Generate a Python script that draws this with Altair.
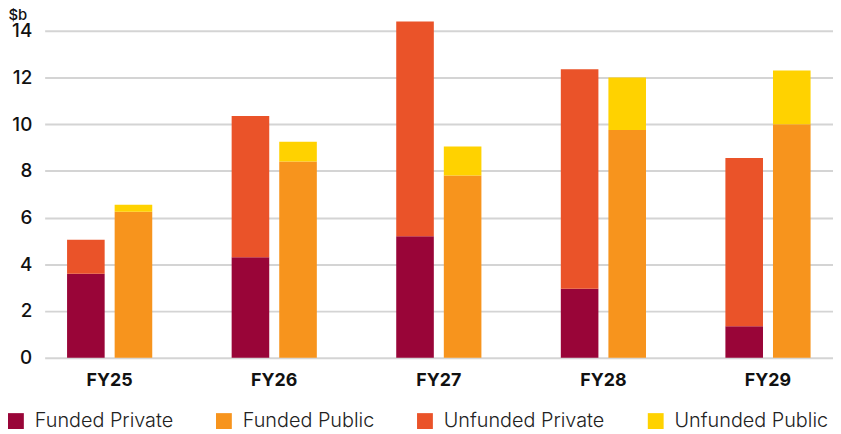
import altair as alt
import pandas as pd

years = ["FY25", "FY26", "FY27", "FY28", "FY29"]
funded_private = [3.6, 4.3, 5.2, 2.95, 1.35]
unfunded_private = [1.45, 6.05, 9.2, 9.4, 7.2]
funded_public = [6.25, 8.4, 7.8, 9.75, 10.0]
unfunded_public = [0.3, 0.85, 1.25, 2.25, 2.3]

series_names = ["Funded Private", "Funded Public", "Unfunded Private", "Unfunded Public"]
series_colors = ["#990538", "#F7941D", "#EA5329", "#FFD200"]

rows = []
for i, y in enumerate(years):
    rows.append({"year": y, "kind": "Private", "series": "Funded Private", "order": 0, "value": funded_private[i]})
    rows.append({"year": y, "kind": "Private", "series": "Unfunded Private", "order": 1, "value": unfunded_private[i]})
    rows.append({"year": y, "kind": "Public", "series": "Funded Public", "order": 0, "value": funded_public[i]})
    rows.append({"year": y, "kind": "Public", "series": "Unfunded Public", "order": 1, "value": unfunded_public[i]})
df = pd.DataFrame(rows)

FONT = "Inter"

chart = alt.Chart(df).mark_bar().encode(
    x=alt.X("year:N", sort=years,
            scale=alt.Scale(paddingInner=0.42, paddingOuter=0.105),
            axis=alt.Axis(title=None, labelAngle=0, ticks=False, domain=False,
                          labelFont=FONT, labelFontSize=18, labelFontWeight=700,
                          labelColor="#111111", labelPadding=14)),
    xOffset=alt.XOffset("kind:N", sort=["Private", "Public"],
                        scale=alt.Scale(paddingInner=0.21, paddingOuter=0.108)),
    y=alt.Y("value:Q", stack="zero",
            scale=alt.Scale(domain=[0, 14], nice=False),
            axis=alt.Axis(values=[0, 2, 4, 6, 8, 10, 12, 14], ticks=False, domain=False,
                          grid=True, gridColor="#d4d4d4", gridWidth=2,
                          labelFont=FONT, labelFontSize=19, labelFontWeight=500,
                          labelColor="#111111", labelPadding=13,
                          title="$b", titleAngle=0, titleAlign="left",
                          titleBaseline="alphabetic", titleX=-37, titleY=-11,
                          titleFont=FONT, titleFontSize=15, titleFontWeight=500,
                          titleColor="#111111")),
    color=alt.Color("series:N",
                    scale=alt.Scale(domain=series_names, range=series_colors),
                    legend=alt.Legend(title=None, orient="none", legendX=-39, legendY=384,
                                      direction="horizontal", columns=4,
                                      symbolType="square", symbolSize=256,
                                      symbolStrokeWidth=0, symbolOpacity=1,
                                      labelFont=FONT, labelFontSize=20, labelFontWeight=300,
                                      labelColor="#222222", labelOffset=9,
                                      columnPadding=41, labelLimit=300)),
    order=alt.Order("order:Q"),
).properties(
    width=796, height=330,
    autosize=alt.AutoSizeParams(type="none"),
    padding={"left": 37, "top": 21, "right": 0, "bottom": 75},
).configure_view(stroke=None)

chart.save("out.html", embed_options={"renderer": "svg", "actions": False})
